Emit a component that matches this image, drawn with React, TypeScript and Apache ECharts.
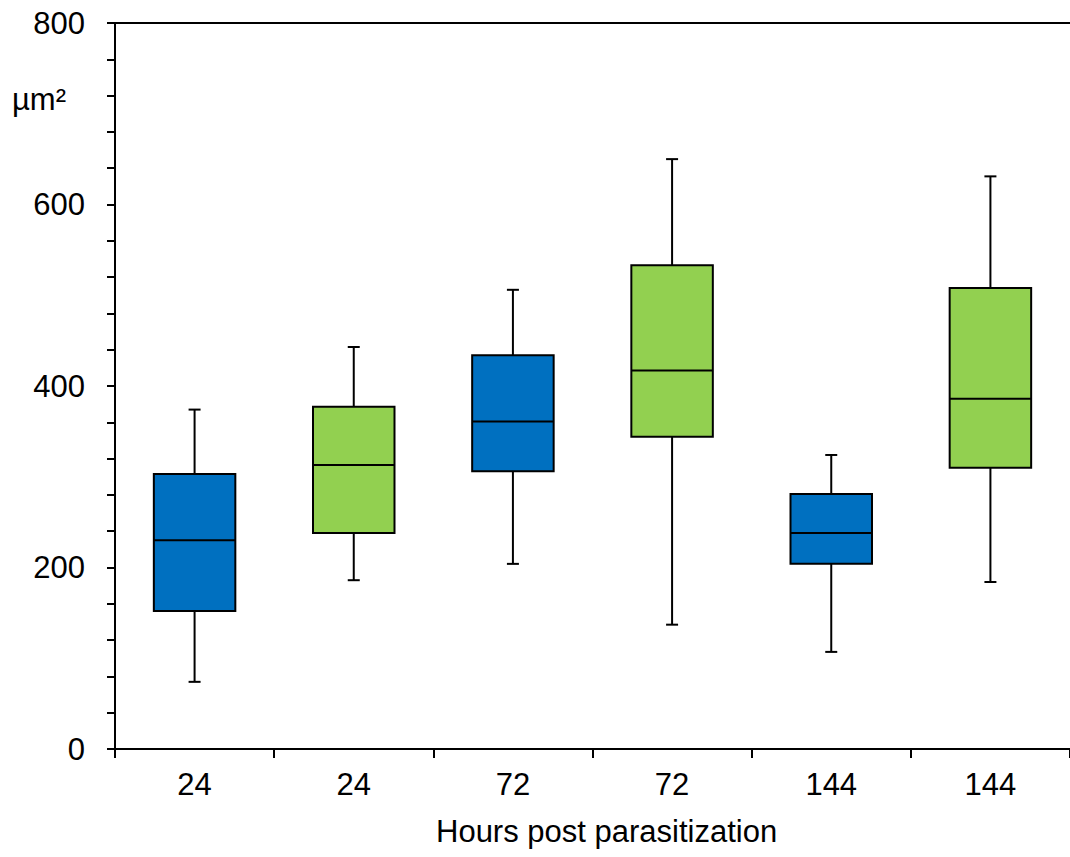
import React, { useEffect, useRef } from "react";
import * as echarts from "echarts";

const categories = ["24", "24", "72", "72", "144", "144"];
const mins = [74, 186, 204, 137, 107, 184];
const q1s = [152, 238, 306, 344, 204, 310];
const medians = [230, 313, 361, 417, 238, 386];
const q3s = [303, 377, 434, 533, 281, 508];
const maxs = [374, 443, 506, 650, 324, 631];
const blueIdx = [0, 2, 4];
const greenIdx = [1, 3, 5];
const yTicks = [0, 200, 400, 600, 800];

const FONT = "Liberation Sans, Arial, sans-serif";
const FS = 31;

function makeData(idxs: number[]) {
  return idxs.map((i) => [i, mins[i], q1s[i], medians[i], q3s[i], maxs[i]]);
}

function renderBox(fill: string) {
  return (params: any, api: any) => {
    const idx = api.value(0);
    const x = api.coord([idx, 0])[0];
    const yMin = api.coord([idx, api.value(1)])[1];
    const yQ1 = api.coord([idx, api.value(2)])[1];
    const yMed = api.coord([idx, api.value(3)])[1];
    const yQ3 = api.coord([idx, api.value(4)])[1];
    const yMax = api.coord([idx, api.value(5)])[1];
    const band = api.size([1, 0])[0];
    const bw = band * 0.512;
    const cap = 6;
    const ls = { stroke: "#000", lineWidth: 2 };
    return {
      type: "group",
      children: [
        { type: "line", shape: { x1: x, y1: yMax, x2: x, y2: yQ3 }, style: ls },
        { type: "line", shape: { x1: x - cap, y1: yMax, x2: x + cap, y2: yMax }, style: ls },
        { type: "line", shape: { x1: x, y1: yQ1, x2: x, y2: yMin }, style: ls },
        { type: "line", shape: { x1: x - cap, y1: yMin, x2: x + cap, y2: yMin }, style: ls },
        {
          type: "rect",
          shape: { x: x - bw / 2, y: yQ3, width: bw, height: yQ1 - yQ3 },
          style: { fill, stroke: "#000", lineWidth: 2 },
        },
        { type: "line", shape: { x1: x - bw / 2, y1: yMed, x2: x + bw / 2, y2: yMed }, style: ls },
      ],
    };
  };
}

export default function App() {
  const ref = useRef<HTMLDivElement>(null);
  useEffect(() => {
    if (!ref.current) return;
    const chart = echarts.init(ref.current, null, { renderer: "svg" });
    const axisLine = { show: true, lineStyle: { color: "#000", width: 2 } };
    chart.setOption({
      animation: false,
      backgroundColor: "#fff",
      grid: { left: 115, right: -4, top: 23, bottom: 108, containLabel: false },
      xAxis: [
        {
          type: "category",
          data: categories,
          boundaryGap: true,
          axisLine,
          axisTick: { show: true, length: 9, interval: 0, lineStyle: { color: "#000", width: 2 } },
          axisLabel: { fontSize: FS, color: "#000", fontFamily: FONT, margin: 20, interval: 0 },
          splitLine: { show: false },
        },
        {
          type: "category",
          data: categories,
          position: "top",
          axisLine,
          axisTick: { show: false },
          axisLabel: { show: false },
          splitLine: { show: false },
        },
      ],
      yAxis: {
        type: "value",
        min: yTicks[0],
        max: yTicks[yTicks.length - 1],
        interval: 200,
        axisLine,
        axisTick: { show: true, length: 8, lineStyle: { color: "#000", width: 2 } },
        minorTick: { show: true, splitNumber: 5, length: 8, lineStyle: { color: "#000", width: 2 } },
        axisLabel: { fontSize: FS, color: "#000", fontFamily: FONT, margin: 30 },
        splitLine: { show: false },
        minorSplitLine: { show: false },
      },
      graphic: [
        {
          type: "text",
          left: 436,
          top: 816,
          style: {
            text: "Hours post parasitization",
            fontSize: FS,
            fontFamily: FONT,
            fill: "#000",
          },
        },
        {
          type: "text",
          x: 12,
          y: 99,
          style: {
            text: "µm²",
            fontSize: FS,
            fontFamily: FONT,
            fill: "#000",
            verticalAlign: "middle",
            align: "left",
          },
        },
      ],
      series: [
        {
          type: "custom",
          name: "blue",
          renderItem: renderBox("#0070C0"),
          encode: { x: 0, y: [1, 2, 3, 4, 5] },
          data: makeData(blueIdx),
        },
        {
          type: "custom",
          name: "green",
          renderItem: renderBox("#92D050"),
          encode: { x: 0, y: [1, 2, 3, 4, 5] },
          data: makeData(greenIdx),
        },
      ],
    });
    return () => chart.dispose();
  }, []);
  return (
    <div
      ref={ref}
      style={{ position: "fixed", left: 0, top: 0, width: 1070, height: 857 }}
    />
  );
}
